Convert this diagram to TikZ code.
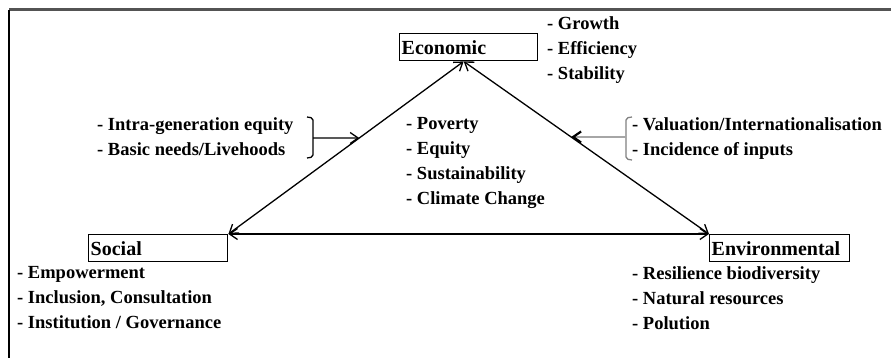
\documentclass[tikz,border=0pt]{standalone}
\usepackage{fontspec}
\setmainfont{Liberation Serif}
\usetikzlibrary{arrows.meta, positioning, calc}

\tikzset{
  pillar/.style={draw, line width=1.4pt, anchor=north west, inner xsep=2pt, inner ysep=0pt,
    minimum height=27pt, align=left, font=\fontsize{20}{24}\selectfont\bfseries},
  itemlist/.style={inner sep=0pt, align=left, anchor=north west,
    font=\fontsize{18.5}{25}\selectfont\bfseries},
  link/.style={line width=1.3pt, {Straight Barb[length=8pt,width=11pt]}-{Straight Barb[length=8pt,width=11pt]}},
  feed/.style={line width=1.3pt, -{Straight Barb[length=8pt,width=11pt]}},
}

\begin{document}
\begin{tikzpicture}[x=1pt, y=-1pt]
  \useasboundingbox (0,0) rectangle (891,358);
  % frame
  \draw[line width=3pt, gray!65!black] (9,10) -- (891,10);
  \draw[line width=1.4pt] (9,10) -- (9,358);

  % the three pillars
  \node[pillar, text width=134pt] (econ) at (399,33) {Economic};
  \node[pillar, text width=135pt] (social) at (88,234) {Social};
  \node[pillar, text width=136pt] (env) at (709,234) {Environmental};
  \coordinate (apex) at ([xshift=-5pt]econ.south);

  \draw[link] (apex) -- (social.north east);
  \draw[link] (apex) -- (env.north west);
  \draw[link] (social.north east) -- (env.north west);

  % lists
  \node[itemlist] (growth) at (547,16) {- Growth\\- Efficiency\\- Stability};
  \node[itemlist] (equity) at (97,117) {- Intra-generation equity\\- Basic needs/Livehoods};
  \node[itemlist] (poverty) at (406,117) {- Poverty\\- Equity\\- Sustainability\\- Climate Change};
  \node[itemlist] (valuation) at (632,117) {- Valuation/Internationalisation\\- Incidence of inputs};
  \node[itemlist] (empower) at (17,266) {- Empowerment\\- Inclusion, Consultation\\- Institution / Governance};
  \node[itemlist] (resil) at (632,266) {- Resilience biodiversity\\- Natural resources\\- Polution};

  % left bracket
  \draw[line width=1.3pt, rounded corners=2pt] (307,117) -- (313,118) -- (313,157) -- (307,158);
  \coordinate (lbr) at (313,138);
  \coordinate (lbr2) at (420,138);
  \draw[feed] (lbr) -- (intersection of lbr--lbr2 and apex--social.north east);

  % right bracket
  \draw[line width=1.3pt, gray, rounded corners=2pt] (632,117) -- (626,118) -- (626,159) -- (632,160);
  \coordinate (rbr) at (626,137);
  \coordinate (rbr2) at (520,137);
  \draw[line width=2.2pt, gray!70, -{Straight Barb[length=8pt,width=11pt,color=black]}]
    (rbr) -- (intersection of rbr--rbr2 and apex--env.north west);
\end{tikzpicture}
\end{document}
